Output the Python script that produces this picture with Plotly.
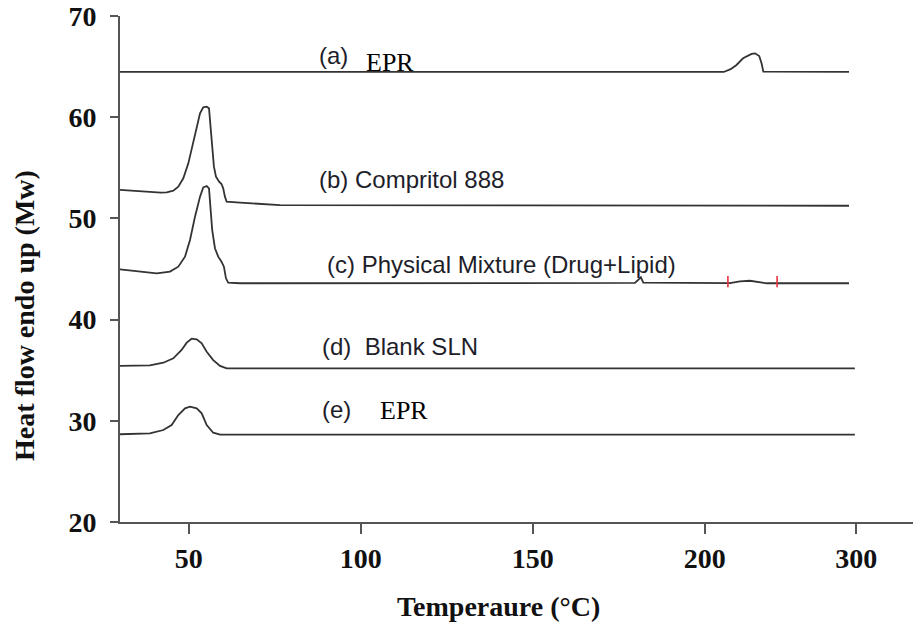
import plotly.graph_objects as go

# ---- data ----
a_x = [30, 205.5, 207.5, 209.2, 211.1, 213.6, 214.6, 215.8, 216.5, 217.0, 241.9]
a_y = [64.47, 64.47, 64.75, 65.16, 65.82, 66.25, 66.31, 66.05, 65.3, 64.5, 64.47]

b_x = [30, 41.9, 43.57, 45.5, 46.95, 48.4, 49.86, 51.31, 52.3, 53.26, 54.2, 55.2, 55.87,
       56.36, 56.8, 57.3, 57.9, 58.8, 59.5, 60.0, 60.5, 61.0, 64.9, 76.5, 241.9]
b_y = [52.81, 52.54, 52.58, 52.74, 53.13, 53.96, 55.44, 57.42, 58.9, 60.38, 60.98, 61.04, 60.88,
       59.06, 56.76, 55.11, 54.12, 53.63, 53.4, 52.97, 52.15, 51.65, 51.55, 51.32, 51.25]

c_x = [30, 35.81, 40.66, 44.53, 46.95, 48.9, 50.35, 51.8, 53.26, 54.2, 55.2, 55.87, 56.36,
       56.8, 57.6, 58.55, 59.5, 60.2, 60.8, 61.45, 64.9, 179.7, 181.4, 182.1, 207.3,
       210.2, 213.1, 216.0, 218.0, 241.9]
c_y = [44.97, 44.74, 44.57, 44.74, 45.23, 46.22, 47.87, 50.17, 52.15, 53.07, 53.2, 52.97, 51.16,
       48.85, 47.05, 46.22, 45.72, 45.23, 44.08, 43.65, 43.59, 43.62, 44.18, 43.65, 43.6,
       43.78, 43.84, 43.72, 43.59, 43.59]

d_x = [30, 38.7, 42.6, 45.5, 47.9, 49.4, 50.8, 52.3, 53.75, 55.2, 57.1, 59.07, 61.0, 243.6]
d_y = [35.42, 35.48, 35.74, 36.17, 37.0, 37.72, 38.11, 38.05, 37.66, 36.83, 36.0, 35.42, 35.19, 35.19]

e_x = [30, 38.7, 42.6, 45.0, 46.95, 48.9, 50.35, 52.3, 53.75, 55.2, 57.1, 59.07, 243.6]
e_y = [28.67, 28.76, 29.09, 29.58, 30.57, 31.23, 31.4, 31.23, 30.74, 29.58, 28.82, 28.63, 28.63]

marker_x = [206.7, 221.0]
marker_y_low = 43.2
marker_y_high = 44.3

x_tickvals = [50, 100, 150, 200, 244]
x_ticktext = ["50", "100", "150", "200", "300"]
y_tickvals = [20, 30, 40, 50, 60, 70]

x_title = "Temperaure (°C)"
y_title = "Heat flow endo up (Mw)"

# labels: (x, y, text, font)
sans = "Liberation Sans"
serif = "Liberation Serif"
labels = [
    (87.3, 66.1, "(a)", sans),
    (100.9, 65.45, "EPR", serif),
    (87.3, 53.8, "(b) Compritol 888", sans),
    (89.6, 45.4, "(c) Physical Mixture (Drug+Lipid)", sans),
    (88.1, 37.3, "(d)  Blank SLN", sans),
    (88.1, 31.07, "(e)", sans),
    (105.0, 30.97, "EPR", serif),
]

line_color = "#333333"

fig = go.Figure()
for xs, ys in [(a_x, a_y), (b_x, b_y), (c_x, c_y), (d_x, d_y), (e_x, e_y)]:
    fig.add_trace(go.Scatter(x=xs, y=ys, mode="lines",
                             line=dict(color=line_color, width=1.8),
                             showlegend=False, hoverinfo="skip"))

mx, my = [], []
for xv in marker_x:
    mx += [xv, xv, None]
    my += [marker_y_low, marker_y_high, None]
fig.add_trace(go.Scatter(x=mx, y=my, mode="lines",
                         line=dict(color="#e8303a", width=1.6),
                         showlegend=False, hoverinfo="skip"))

for x, y, t, fam in labels:
    fig.add_annotation(x=x, y=y, xref="x", yref="y", text=t, showarrow=False,
                       xanchor="left", yanchor="middle",
                       font=dict(family=fam, size=24 if fam == sans else 26,
                                 color="#1e1e2a" if fam == sans else "#000000"))

title_font = dict(family=serif, size=28, color="#111111", weight="bold")
fig.add_annotation(x=(498 - 120) / 793, y=(522 - 606) / 506, xref="paper", yref="paper",
                   text=x_title, showarrow=False, xanchor="center", yanchor="middle",
                   font=title_font)
fig.add_annotation(x=(24 - 120) / 793, y=(522 - 316) / 506, xref="paper", yref="paper",
                   text=y_title, showarrow=False, xanchor="center", yanchor="middle",
                   textangle=-90, font=title_font)

tick_font = dict(family=serif, size=28, color="#111111", weight="bold")
fig.update_layout(
    width=913, height=623,
    margin=dict(l=120, r=0, t=16, b=101),
    paper_bgcolor="white", plot_bgcolor="white",
    xaxis=dict(range=[30, 260.5], tickvals=x_tickvals, ticktext=x_ticktext,
               showgrid=False, zeroline=False, showline=True, linecolor="#555555",
               linewidth=2, ticks="outside", ticklen=10, tickwidth=2, tickcolor="#555555",
               tickfont=tick_font, ticklabelstandoff=0, automargin=False),
    yaxis=dict(range=[20, 70], tickvals=y_tickvals,
               showgrid=False, zeroline=False, showline=True, linecolor="#555555",
               linewidth=2, ticks="outside", ticklen=8, tickwidth=2, tickcolor="#555555",
               tickfont=tick_font, ticklabelstandoff=8, automargin=False),
)

fig.write_html("out.html", config={"displayModeBar": False},
               post_script="document.body.style.margin='0';document.body.style.overflow='hidden';")
